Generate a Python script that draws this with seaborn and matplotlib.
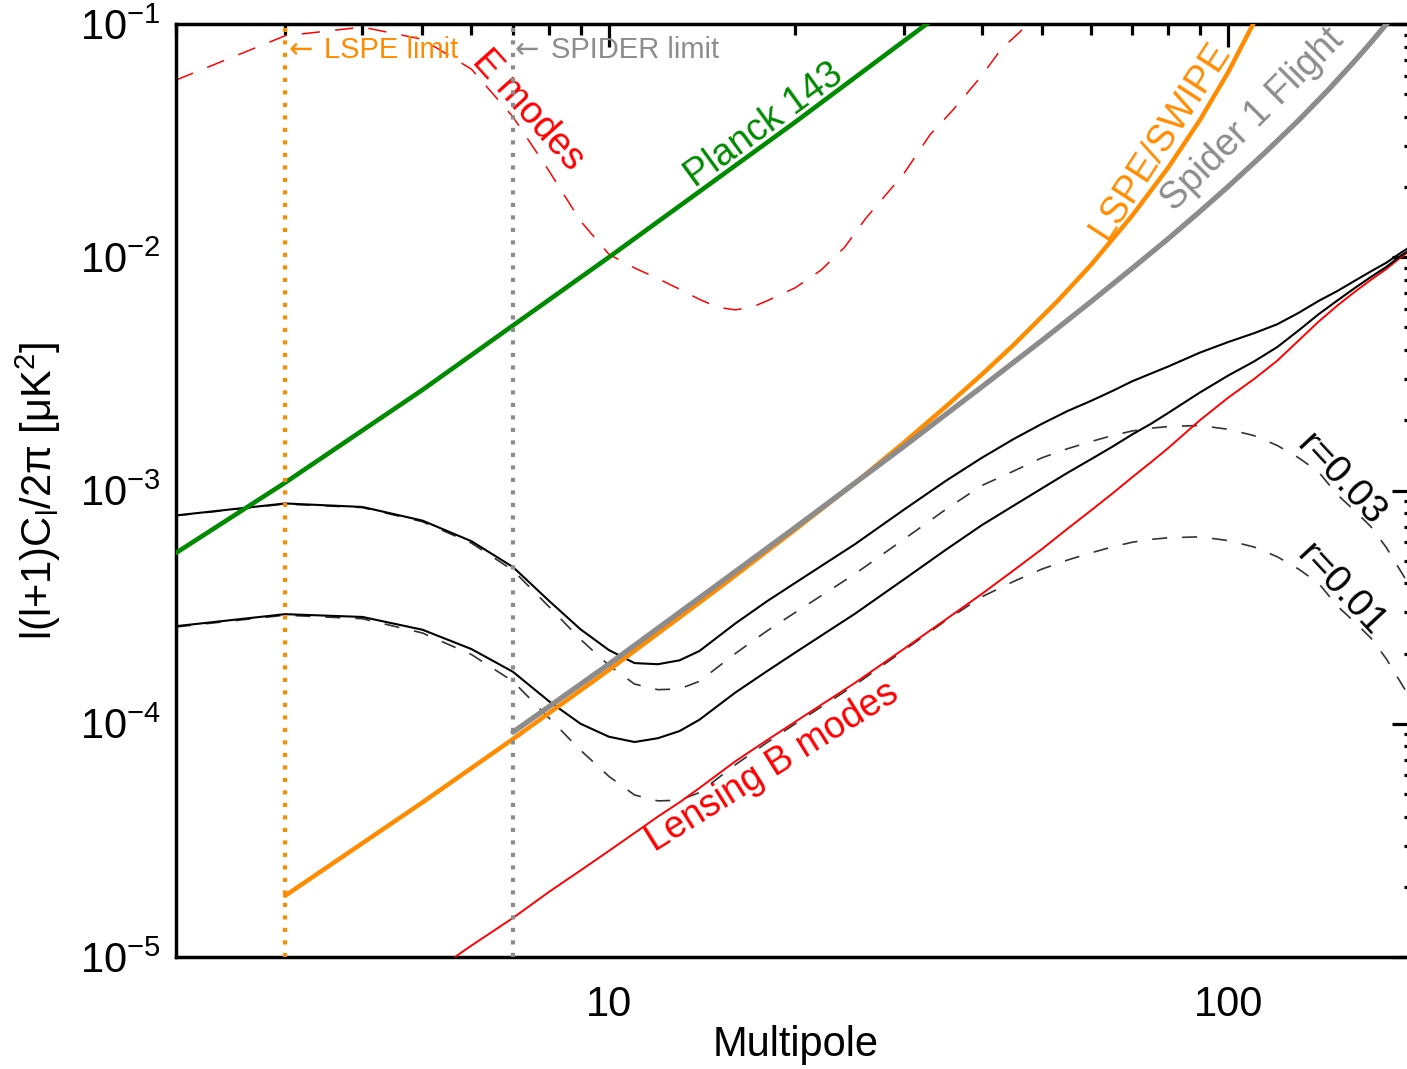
import numpy as np
import seaborn as sns
import matplotlib
matplotlib.use('Agg')
import matplotlib.pyplot as plt
from matplotlib.ticker import LogLocator, NullFormatter, FixedLocator, FuncFormatter

# multipole grid for the B-mode curves
ell = [2, 3, 4, 5, 6, 7, 8, 9, 10, 11, 12, 13, 14, 16, 18, 20, 25, 30, 35, 40, 45,
       50, 55, 60, 65, 70, 75, 80, 90, 100, 110, 120, 130, 140, 150, 160, 170, 180, 190, 200]

# total BB (tensor + lensing), solid black
total_r003 = [7.82e-4, 8.8e-4, 8.5e-4, 7.43e-4, 6.06e-4, 4.7e-4, 3.37e-4, 2.54e-4, 2.07e-4, 1.82e-4,
              1.8e-4, 1.87e-4, 2.05e-4, 2.69e-4, 3.35e-4, 4.02e-4, 5.9e-4, 8.3e-4, 1.1e-3, 1.38e-3, 1.66e-3,
              1.93e-3, 2.19e-3, 2.42e-3, 2.67e-3, 2.94e-3, 3.17e-3, 3.4e-3, 3.9e-3, 4.33e-3, 4.72e-3,
              5.16e-3, 5.78e-3, 6.5e-3, 7.16e-3, 7.92e-3, 8.7e-3, 9.47e-3, 1.045e-2, 1.14e-2]
total_r001 = [2.62e-4, 2.95e-4, 2.87e-4, 2.53e-4, 2.09e-4, 1.67e-4, 1.25e-4, 1.0e-4, 8.8e-5, 8.35e-5,
              8.67e-5, 9.3e-5, 1.04e-4, 1.36e-4, 1.68e-4, 2.02e-4, 2.97e-4, 4.17e-4, 5.57e-4, 7.1e-4, 8.6e-4,
              1.02e-3, 1.19e-3, 1.36e-3, 1.54e-3, 1.74e-3, 1.93e-3, 2.15e-3, 2.63e-3, 3.11e-3, 3.57e-3,
              4.12e-3, 4.86e-3, 5.7e-3, 6.52e-3, 7.37e-3, 8.23e-3, 9.09e-3, 1.015e-2, 1.11e-2]

# tensor-only BB, dashed black
tensor_r003 = [7.8e-4, 8.75e-4, 8.45e-4, 7.35e-4, 5.95e-4, 4.55e-4, 3.18e-4, 2.3e-4, 1.78e-4, 1.48e-4,
               1.4e-4, 1.41e-4, 1.52e-4, 2.0e-4, 2.5e-4, 3.0e-4, 4.4e-4, 6.2e-4, 8.3e-4, 1.05e-3, 1.21e-3,
               1.38e-3, 1.51e-3, 1.62e-3, 1.72e-3, 1.8e-3, 1.85e-3, 1.88e-3, 1.9e-3, 1.83e-3, 1.72e-3,
               1.56e-3, 1.38e-3, 1.2e-3, 9.6e-4, 8.2e-4, 7.0e-4, 5.7e-4, 4.5e-4, 3.6e-4]
tensor_r001 = [2.6e-4, 2.92e-4, 2.82e-4, 2.45e-4, 1.98e-4, 1.52e-4, 1.06e-4, 7.7e-5, 5.95e-5, 4.95e-5,
               4.67e-5, 4.7e-5, 5.07e-5, 6.67e-5, 8.3e-5, 1.0e-4, 1.47e-4, 2.07e-4, 2.77e-4, 3.5e-4, 4.07e-4,
               4.6e-4, 5.03e-4, 5.4e-4, 5.73e-4, 6.0e-4, 6.17e-4, 6.27e-4, 6.33e-4, 6.1e-4, 5.73e-4,
               5.2e-4, 4.6e-4, 4.0e-4, 3.2e-4, 2.73e-4, 2.33e-4, 1.9e-4, 1.5e-4, 1.2e-4]

# lensing B modes, solid red
lensing_bb = [1.6e-6, 3.2e-6, 5.3e-6, 8.0e-6, 1.12e-5, 1.47e-5, 1.9e-5, 2.35e-5, 2.85e-5, 3.4e-5,
              4.0e-5, 4.6e-5, 5.3e-5, 6.9e-5, 8.5e-5, 1.02e-4, 1.5e-4, 2.1e-4, 2.8e-4, 3.6e-4, 4.54e-4,
              5.6e-4, 6.85e-4, 8.2e-4, 9.7e-4, 1.14e-3, 1.32e-3, 1.52e-3, 2.0e-3, 2.5e-3, 3.0e-3,
              3.6e-3, 4.4e-3, 5.3e-3, 6.2e-3, 7.1e-3, 8.0e-3, 8.9e-3, 1.0e-2, 1.1e-2]

# E modes, dashed red
ell_ee = [2, 3, 4, 5, 6, 7, 8, 9, 10, 11, 12, 13, 14, 15, 16, 17, 18, 20, 22, 24, 26, 28, 30, 33, 36, 40, 43, 46, 50]
ee_modes = [5.75e-2, 8.9e-2, 9.7e-2, 8.6e-2, 6.4e-2, 4.0e-2, 2.35e-2, 1.43e-2, 1.03e-2, 9.0e-3,
            8.1e-3, 7.3e-3, 6.6e-3, 6.1e-3, 5.95e-3, 6.1e-3, 6.5e-3, 7.4e-3, 8.8e-3, 1.1e-2,
            1.47e-2, 1.85e-2, 2.3e-2, 3.35e-2, 4.3e-2, 6.0e-2, 7.8e-2, 9.2e-2, 0.115]

# instrument noise curves
ell_planck = [2, 3, 5, 10, 20, 40]
planck_143 = [5.4e-4, 1.08e-3, 2.7e-3, 1.0e-2, 3.8e-2, 0.15]

ell_lspe = [3, 5, 7, 10, 15, 20, 25, 30, 35, 40, 45, 53, 60, 70, 80, 90, 100, 112, 125]
lspe_swipe = [1.83e-5, 4.6e-5, 8.6e-5, 1.7e-4, 3.79e-4, 6.8e-4, 1.08e-3, 1.61e-3, 2.29e-3, 3.14e-3,
              4.2e-3, 6.48e-3, 9.25e-3, 1.51e-2, 2.42e-2, 3.87e-2, 6.21e-2, 0.111, 0.21]

ell_spider = [7, 10, 15, 20, 30, 40, 50, 60, 70, 80, 90, 100, 115, 130, 145, 160, 170, 180, 190, 200]
spider_flight = [9.2e-5, 1.8e-4, 3.96e-4, 6.94e-4, 1.55e-3, 2.78e-3, 4.39e-3, 6.44e-3, 8.97e-3, 1.2e-2,
                 1.57e-2, 2.01e-2, 2.83e-2, 3.87e-2, 5.21e-2, 6.93e-2, 8.33e-2, 0.0998, 0.119, 0.143]

lspe_limit = 3
spider_limit = 7

GREEN = '#008a00'
ORANGE = '#ff8c00'
GRAY = '#8c8c8c'
RED = '#ff0000'

sns.set_theme(style='white')
plt.rcParams['font.family'] = ['Liberation Sans', 'DejaVu Sans']
plt.rcParams['mathtext.fontset'] = 'custom'
plt.rcParams['mathtext.rm'] = 'Liberation Sans'
plt.rcParams['mathtext.it'] = 'Liberation Sans:italic'
plt.rcParams['mathtext.bf'] = 'Liberation Sans:bold'
for key in ['text.color', 'axes.labelcolor', 'xtick.color', 'ytick.color']:
    plt.rcParams[key] = 'black'

fig = plt.figure(figsize=(14.07, 10.69), dpi=100)
ax = fig.add_axes([176 / 1407, 112 / 1069, 1238.6 / 1407, 933 / 1069])
ax.set_xscale('log')
ax.set_yscale('log')

dash_k = (0, (9, 9))
dash_r = (0, (12, 10))

sns.lineplot(x=ell_ee, y=ee_modes, ax=ax, color=RED, linewidth=1.1, linestyle=dash_r, errorbar=None, zorder=2)
sns.lineplot(x=ell, y=tensor_r003, ax=ax, color='#333333', linewidth=1.2, linestyle=dash_k, errorbar=None, zorder=2)
sns.lineplot(x=ell, y=tensor_r001, ax=ax, color='#333333', linewidth=1.2, linestyle=dash_k, errorbar=None, zorder=2)
sns.lineplot(x=ell, y=lensing_bb, ax=ax, color=RED, linewidth=1.4, errorbar=None, zorder=3)
sns.lineplot(x=ell, y=total_r003, ax=ax, color='black', linewidth=1.5, errorbar=None, zorder=3)
sns.lineplot(x=ell, y=total_r001, ax=ax, color='black', linewidth=1.5, errorbar=None, zorder=3)
sns.lineplot(x=ell_planck, y=planck_143, ax=ax, color=GREEN, linewidth=3.3, errorbar=None, zorder=4)
sns.lineplot(x=ell_lspe, y=lspe_swipe, ax=ax, color=ORANGE, linewidth=3.2, errorbar=None, zorder=4)
sns.lineplot(x=ell_spider, y=spider_flight, ax=ax, color=GRAY, linewidth=3.8, errorbar=None, zorder=5)

ax.axvline(lspe_limit, color=ORANGE, linewidth=3, linestyle=(0, (1, 2)), dash_capstyle='butt', zorder=6)
ax.axvline(spider_limit, color=GRAY, linewidth=3, linestyle=(0, (1, 2)), dash_capstyle='butt', zorder=6)

ax.set_xlim(2, 200)
ax.set_ylim(1e-5, 1e-1)

# annotations
ax.text(3.04, 0.0774, '\u2190', color=ORANGE, fontsize=21, ha='left', va='center', family=['DejaVu Sans'])
ax.text(3.47, 0.0774, 'LSPE limit', color=ORANGE, fontsize=21, ha='left', va='center')
ax.text(7.03, 0.0774, '\u2190', color=GRAY, fontsize=21, ha='left', va='center', family=['DejaVu Sans'])
ax.text(8.06, 0.0774, 'SPIDER limit', color=GRAY, fontsize=21, ha='left', va='center')
ax.text(7.4, 0.0428, 'E modes', color=RED, fontsize=27, rotation=-48, ha='center', va='center',
        rotation_mode='anchor')
ax.text(17.8, 0.0369, 'Planck 143', color=GREEN, fontsize=27, rotation=36, ha='center', va='center',
        rotation_mode='anchor')
ax.text(77.6, 0.0318, 'LSPE/SWIPE', color=ORANGE, fontsize=27, rotation=57, ha='center', va='center',
        rotation_mode='anchor')
ax.text(109.7, 0.0387, 'Spider 1 Flight', color=GRAY, fontsize=27, rotation=45, ha='center', va='center',
        rotation_mode='anchor')
ax.text(151.7, 1.11e-3, 'r=0.03', color='black', fontsize=28, rotation=-47, ha='center', va='center',
        rotation_mode='anchor')
ax.text(151.7, 3.74e-4, 'r=0.01', color='black', fontsize=28, rotation=-47, ha='center', va='center',
        rotation_mode='anchor')
ax.text(18.4, 6.53e-5, 'Lensing B modes', color=RED, fontsize=27, rotation=32, ha='center', va='center',
        rotation_mode='anchor')

# axes styling
ax.xaxis.set_major_locator(FixedLocator([10, 100]))
ax.xaxis.set_major_formatter(FuncFormatter(lambda v, p: '%g' % v))
ax.xaxis.set_minor_locator(LogLocator(base=10, subs=np.arange(2, 10), numticks=20))
ax.xaxis.set_minor_formatter(NullFormatter())
ax.yaxis.set_major_locator(LogLocator(base=10, numticks=10))
ax.yaxis.set_minor_locator(LogLocator(base=10, subs=np.arange(2, 10), numticks=20))
ax.yaxis.set_minor_formatter(NullFormatter())

ax.tick_params(which='both', direction='in', top=True, right=True, color='black', width=2.3)
ax.tick_params(which='major', length=16.5, labelsize=30, labelcolor='black')
ax.tick_params(axis='x', which='major', pad=20)
ax.tick_params(axis='y', which='major', pad=11)
ax.tick_params(which='minor', length=7.7)
for sp in ax.spines.values():
    sp.set_linewidth(2.5)
    sp.set_color('black')

ax.set_xlabel('Multipole', fontsize=30, labelpad=0, color='black')
ax.set_ylabel('l(l+1)C$_{\\mathrm{l}}$/2\u03c0 [\u03bcK$^{2}$]', fontsize=30, labelpad=12, color='black')

fig.savefig('out.png', dpi=100)
